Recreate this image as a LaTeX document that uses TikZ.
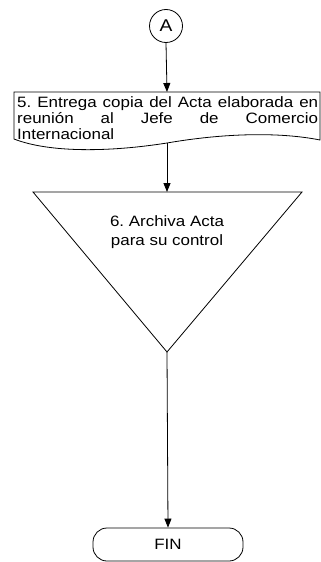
\documentclass[tikz,border=0pt]{standalone}
\usepackage{fontspec}
\setmainfont{Liberation Sans}[FakeStretch=1.13]
\usetikzlibrary{arrows.meta}
\frenchspacing
\begin{document}
\begin{tikzpicture}[x=1pt,y=-1pt,
  line/.style={draw=black,line width=0.8pt},
  arr/.style={line,-{Triangle[width=7pt,length=9pt]}},
  txt/.style={inner sep=0pt,font=\fontsize{15}{16}\selectfont},
]
\useasboundingbox (0,0) rectangle (321,562);
% connector A
\node[line,circle,minimum size=33pt,inner sep=0pt,font=\fontsize{17}{18}\selectfont] (A) at (166,26) {A};
% document shape
\coordinate (dTL) at (14,92);
\coordinate (dTR) at (320,92);
\coordinate (dBR) at (320,140);
\coordinate (dBL) at (14,139);
\coordinate (dTop) at (167,92);
\coordinate (dBot) at (167,143);
\draw[line] (dBL) -- (dTL) -- (dTR) -- (dBR)
  .. controls (280,132) and (225,133) .. (dBot)
  .. controls (110,152) and (50,153) .. (dBL) -- cycle;
\node[txt,anchor=north west,align=left] (doc) at (17,96)
  {\makebox[301pt][s]{5. Entrega copia del Acta elaborada en}\\
   \makebox[301pt][s]{reunión al Jefe de Comercio}\\
   Internacional};
% triangle
\coordinate (tL) at (33,192);
\coordinate (tR) at (302,192);
\coordinate (tTop) at (167,192);
\coordinate (tApex) at (167,352);
\draw[line] (tL) -- (tR) -- (tApex) -- cycle;
\node[txt,align=center,font=\fontsize{15}{18.5}\selectfont] (arch) at (167,232) {6. Archiva Acta\\para su control};
% terminal
\node[line,rectangle,rounded corners=14pt,minimum width=150pt,minimum height=33pt,inner sep=0pt,font=\fontsize{15}{18}\selectfont] (fin) at (168,544.5) {FIN};
% connectors
\draw[arr] (A.south) -- (dTop);
\draw[arr] (dBot) -- (tTop);
\draw[arr] (tApex) -- (fin.north);
\end{tikzpicture}
\end{document}
